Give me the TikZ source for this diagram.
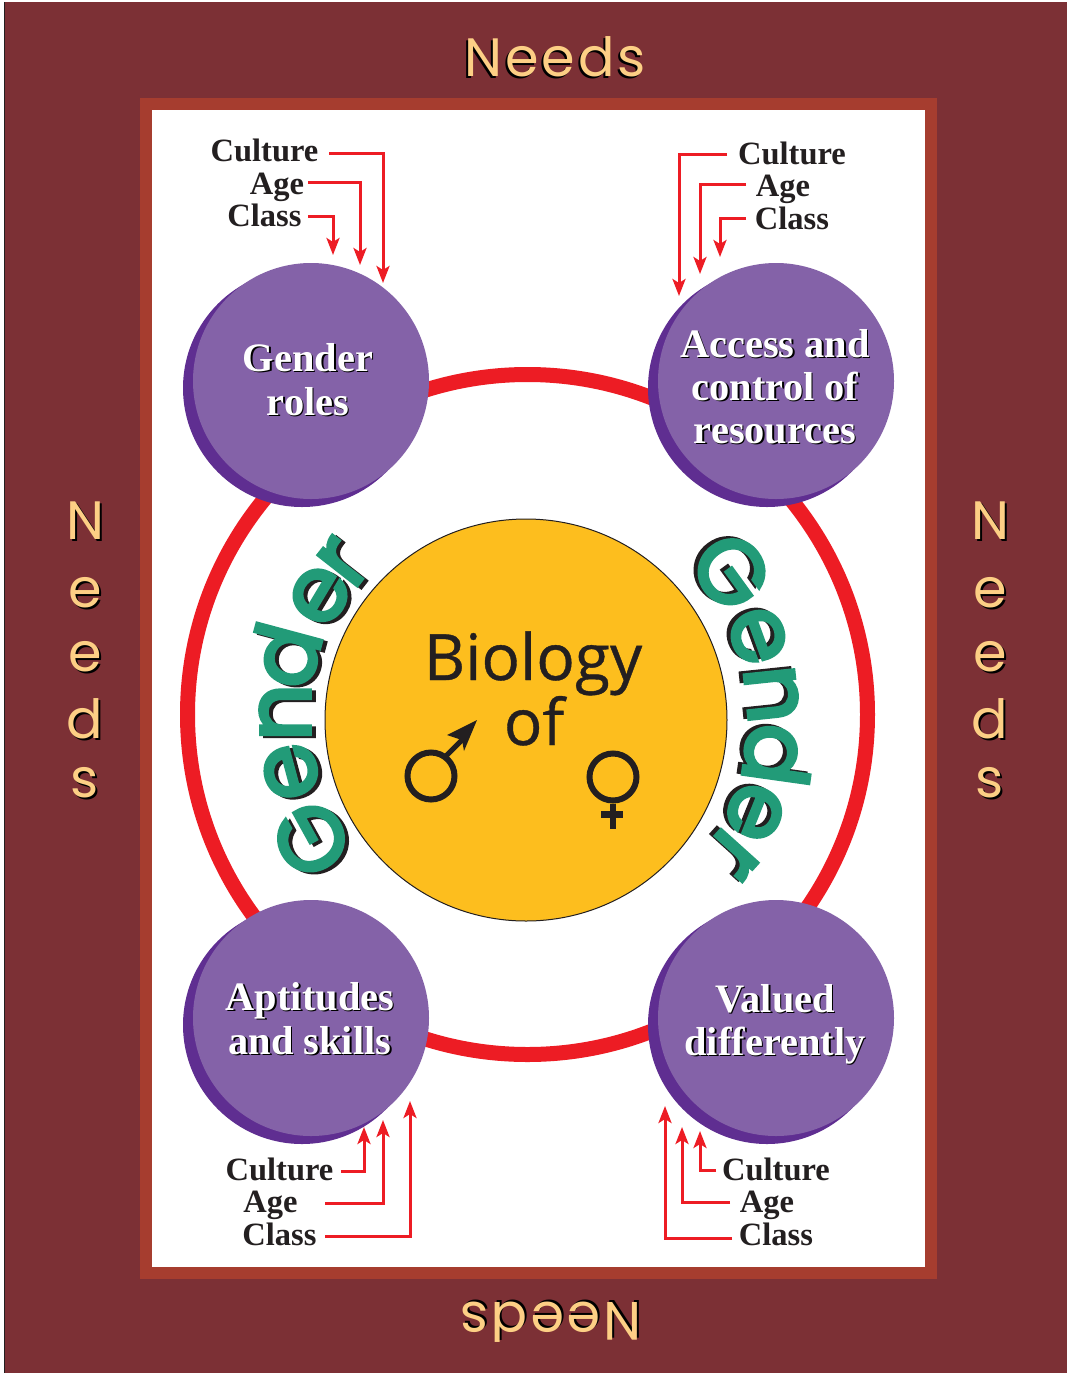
\documentclass[tikz,border=0pt]{standalone}
\usepackage{fontspec}
\setmainfont{Liberation Serif}
\newfontfamily\sansf{Open Sans}
\newfontfamily\geof{Poppins}
\definecolor{maroon}{HTML}{7C3035}
\definecolor{brick}{HTML}{A63D2F}
\definecolor{ringred}{HTML}{ED1C24}
\definecolor{purp}{HTML}{8462A8}
\definecolor{purpd}{HTML}{5F2E91}
\definecolor{gold}{HTML}{FDBE1E}
\definecolor{grn}{HTML}{229B78}
\definecolor{inkk}{HTML}{231F20}
\definecolor{sand}{HTML}{FDCF85}
\usetikzlibrary{arrows.meta,calc}
\tikzset{
 x=1pt,y=1pt,
 lab/.style={anchor=base,inner sep=0,font=\fontsize{32.5}{32}\selectfont\bfseries,text=inkk},
 circtext/.style={anchor=base,inner sep=0,font=\fontsize{40.4}{40}\selectfont\bfseries},
 need/.style={anchor=base,inner sep=0,font=\geof\fontsize{54}{54}\selectfont},
 flow/.style={draw=ringred,line width=3pt,-{Stealth[length=17pt,width=13pt,inset=4pt]},line join=miter},
 discmain/.style={circle,fill=purp,minimum size=236pt,inner sep=0},
 discback/.style={circle,fill=purpd,minimum size=238pt,inner sep=0},
 gletter/.style={anchor=base,inner sep=0,font=\geof\addfontfeature{FakeBold=4}\fontsize{90}{90}\selectfont},
 biotext/.style={anchor=base,inner sep=0,font=\sansf\addfontfeature{FakeBold=0.6}\fontsize{64}{64}\selectfont,text=inkk},
}
% white text with black drop shadow
\newcommand{\ctext}[4]{% name x y text
 \node[circtext,text=black] at (#2+1.5,-#3-1.5) {#4};
 \node[circtext,text=white] (#1) at (#2,-#3) {#4};}
% green letter with shadow: name, angle, radius, rotation, letter, shadow dx, dy
\newcommand{\gl}[7]{%
 \node[gletter,text=inkk,rotate=#4] at ($(ctr)+(#2:#3)+(#6,#7)$) {#5};
 \node[gletter,text=grn,rotate=#4] (#1) at ($(ctr)+(#2:#3)$) {#5};}
% Needs with shadow: name x y rotation text sdx sdy
\newcommand{\nd}[7]{%
 \node[need,text=black,rotate=#4] at (#2+#6,-#3+#7) {#5};
 \node[need,text=sand,rotate=#4] (#1) at (#2,-#3) {#5};}
\begin{document}
\begin{tikzpicture}
\useasboundingbox (0,0) rectangle (1068,-1374);
\fill[white] (0,0) rectangle (1068,-1374);
\fill[maroon] (5,-2) rectangle (1067,-1373);
\draw[inkk,line width=1pt] (4.5,-2) -- (4.5,-1373);
\fill[brick] (140,-98) rectangle (937,-1279);
\fill[white] (152,-110) rectangle (925,-1267);
% ring
\draw[ringred,line width=15pt] (527.5,-714.5) circle (340);
% discs
\node[discback] (tlb) at (302,-388) {};
\node[discmain] (tl) at (311,-381) {};
\node[discback] (trb) at (767,-388) {};
\node[discmain] (tr) at (776,-381) {};
\node[discback] (blb) at (302,-1025) {};
\node[discmain] (bl) at (311,-1018) {};
\node[discback] (brb) at (767,-1025) {};
\node[discmain] (br) at (776,-1018) {};
% biology
\node[circle,fill=gold,draw=inkk,line width=1pt,minimum size=402pt,inner sep=0] (bio) at (526,-720) {};
\coordinate (ctr) at (527,-720);
\node[biotext] (biot) at (533,-680) {Biology};
\node[biotext] (oft) at (534,-745) {of};
% male
\node[circle,draw=inkk,line width=6pt,minimum size=47pt,inner sep=0] (male) at (431,-776) {};
\coordinate (mtail) at (445,-757);
\coordinate (mneck) at (463,-739);
\draw[inkk,line width=5pt] (mtail) -- (mneck);
\fill[inkk] (477,-720) -- (447,-735) -- (462,-740) -- (464,-751) -- cycle;
% female
\node[circle,draw=inkk,line width=6pt,minimum size=47pt,inner sep=0] (female) at (613,-777) {};
\coordinate (fend) at (613,-829);
\draw[inkk,line width=6pt] (female.south) -- (fend);
\coordinate (fa) at (601,-814.5);
\coordinate (fb) at (622.5,-814.5);
\draw[inkk,line width=7pt] (fa) -- (fb);
% left Gender
\gl{la}{208.9}{215}{118.9}{G}{4}{-2}
\gl{lb}{192}{217}{105}{e}{4}{-2}
\gl{lc}{178}{217}{90}{n}{4}{-2}
\gl{ld}{165}{219}{75}{d}{4}{-2}
\gl{le}{149}{217}{59}{e}{4}{-2}
\gl{lf}{139}{217}{52}{r}{4}{-2}
% right Gender
\gl{ra}{36}{221}{-54}{G}{-4}{2}
\gl{rb}{20}{221}{-70}{e}{-4}{2}
\gl{rc}{6}{221}{-84}{n}{-4}{2}
\gl{rd}{-8}{221}{-98}{d}{-4}{2}
\gl{re}{-22}{221}{-112}{e}{-4}{2}
\gl{rf}{-32}{221}{-132}{r}{-4}{2}
% disc texts
\ctext{t1}{308}{371}{Gender}
\ctext{t2}{308}{415}{roles}
\ctext{t3}{775}{357}{Access and}
\ctext{t4}{775}{400}{control of}
\ctext{t5}{775}{443}{resources}
\ctext{t6}{310}{1010}{Aptitudes}
\ctext{t7}{310}{1054}{and skills}
\ctext{t8}{775}{1012}{Valued}
\ctext{t9}{775}{1055}{differently}
% labels
\node[lab] (a1) at (264.5,-161) {Culture};
\node[lab] (a2) at (277,-194) {Age};
\node[lab] (a3) at (264.5,-226) {Class};
\node[lab] (b1) at (792,-164) {Culture};
\node[lab] (b2) at (783,-196) {Age};
\node[lab] (b3) at (792,-229) {Class};
\node[lab] (c1) at (279.5,-1180) {Culture};
\node[lab] (c2) at (270.5,-1212) {Age};
\node[lab] (c3) at (279.5,-1245) {Class};
\node[lab] (d1) at (776,-1180) {Culture};
\node[lab] (d2) at (767,-1212) {Age};
\node[lab] (d3) at (776,-1245) {Class};
% arrows
\coordinate (s1) at (329,-153); \coordinate (e1) at (383,-283);
\coordinate (s2) at (308,-182); \coordinate (e2) at (360,-265);
\coordinate (s3) at (308,-216); \coordinate (e3) at (333,-255);
\coordinate (s4) at (727,-154); \coordinate (e4) at (679,-296);
\coordinate (s5) at (746,-184); \coordinate (e5) at (700,-274);
\coordinate (s6) at (746,-218); \coordinate (e6) at (720,-257);
\coordinate (s7) at (341,-1171); \coordinate (e7) at (364,-1127);
\coordinate (s8) at (325,-1203); \coordinate (e8) at (383,-1120);
\coordinate (s9) at (325,-1236); \coordinate (e9) at (410,-1101);
\coordinate (s10) at (716,-1170); \coordinate (e10) at (700,-1131);
\coordinate (s11) at (730,-1202); \coordinate (e11) at (682,-1127);
\coordinate (s12) at (732,-1238); \coordinate (e12) at (665,-1106);
\foreach \i in {1,...,12} \draw[flow] (s\i) -| (e\i);
% needs
\nd{n1}{555}{76}{0}{N\kern3pt e\kern3pt e\kern3pt d\kern3pt s}{-2}{-2}
\nd{n2}{551}{1302}{180}{N\kern3pt e\kern3pt e\kern3pt d\kern3pt s}{2}{2}
\nd{p1}{85}{539}{0}{N}{2}{-2}
\nd{p2}{85}{607}{0}{e}{2}{-2}
\nd{p3}{85}{671}{0}{e}{2}{-2}
\nd{p4}{85}{738}{0}{d}{2}{-2}
\nd{p5}{85}{797}{0}{s}{2}{-2}
\nd{q1}{990}{539}{0}{N}{2}{-2}
\nd{q2}{990}{607}{0}{e}{2}{-2}
\nd{q3}{990}{671}{0}{e}{2}{-2}
\nd{q4}{990}{738}{0}{d}{2}{-2}
\nd{q5}{990}{797}{0}{s}{2}{-2}
\end{tikzpicture}
\end{document}
